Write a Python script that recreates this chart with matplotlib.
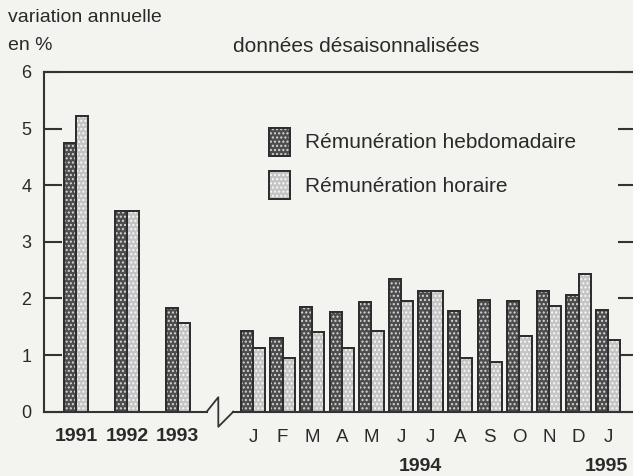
import matplotlib
matplotlib.use("Agg")
import matplotlib.pyplot as plt
from matplotlib.patches import Rectangle
import numpy as np

plt.rcParams['font.family'] = ['Liberation Sans', 'DejaVu Sans']

years = ["1991", "1992", "1993"]
year_hebdo = [4.75, 3.55, 1.83]
year_horaire = [5.22, 3.55, 1.56]

months = ["J", "F", "M", "A", "M", "J", "J", "A", "S", "O", "N", "D", "J"]
month_hebdo = [1.42, 1.31, 1.85, 1.76, 1.94, 2.34, 2.14, 1.78, 1.97, 1.95, 2.14, 2.06, 1.79]
month_horaire = [1.13, 0.95, 1.41, 1.13, 1.43, 1.95, 2.14, 0.95, 0.87, 1.34, 1.86, 2.44, 1.27]

yticks = [0, 1, 2, 3, 4, 5, 6]

BG = '#f3f3ef'
DARK = '#4d4d4d'
LIGHT = '#c4c4c4'
EDGE = '#2e2e2e'
TXT = '#2a2a2a'

W, H = 633, 476
fig = plt.figure(figsize=(W / 100, H / 100), dpi=100, facecolor=BG)

x0_px, y0_px, x1_px, y1_px = 44, 411.7, 636, 72
ax = fig.add_axes([x0_px / W, 1 - y0_px / H, (x1_px - x0_px) / W, (y0_px - y1_px) / H])
ax.set_facecolor(BG)

unit = 29.6
xmax = (x1_px - x0_px) / unit
year_x = np.array([1.08, 2.80, 4.52])
month_x = 7.06 + np.arange(len(months))
bw = 0.41

def draw_bars(xs, vals, color, dotcol):
    ax.bar(xs, vals, width=bw, color=color, edgecolor=EDGE, linewidth=1.4, zorder=2)
    ax.bar(xs, vals, width=bw, color='none', edgecolor=dotcol, hatch='....', linewidth=0, zorder=3)
    ax.bar(xs, vals, width=bw, color='none', edgecolor=EDGE, linewidth=1.4, zorder=4)

draw_bars(year_x - bw / 2, year_hebdo, DARK, '#d8d8d8')
draw_bars(year_x + bw / 2, year_horaire, LIGHT, '#f8f8f8')
draw_bars(month_x - bw / 2, month_hebdo, DARK, '#d8d8d8')
draw_bars(month_x + bw / 2, month_horaire, LIGHT, '#f8f8f8')

ax.set_xlim(0, xmax)
ax.set_ylim(0, 6)

ax.spines['bottom'].set_visible(False)
for s in ['left', 'top', 'right']:
    ax.spines[s].set_color('#333333')
    ax.spines[s].set_linewidth(1.5)

# broken baseline
bx = [(206.7 - x0_px) / unit, (218.3 - x0_px) / unit, (218.3 - x0_px) / unit, (233.3 - x0_px) / unit]
by = [0, 14.4 / 56.3, -15 / 56.3, 0]
ax.plot([0, bx[0]], [0, 0], color='#333333', lw=1.5, clip_on=False, zorder=5)
ax.plot(bx, by, color='#333333', lw=1.3, clip_on=False, zorder=5)
ax.plot([bx[-1], xmax], [0, 0], color='#333333', lw=1.5, clip_on=False, zorder=5)

ax.set_yticks(yticks)
ax.set_yticklabels([str(t) for t in yticks])
ax.tick_params(axis='y', direction='in', length=13, width=1.5, color='#333333',
               labelsize=13, pad=9, labelcolor=TXT, right=True)
ax.set_xticks([])

# x labels
for x, lab in zip(year_x, years):
    ax.text(x, -0.43, lab, ha='center', va='center', fontsize=14, fontweight='bold', color=TXT)
for x, lab in zip(month_x, months):
    ax.text(x, -0.45, lab, ha='center', va='center', fontsize=13.5, color=TXT)
ax.text((420 - x0_px) / unit, -0.97, "1994", ha='center', va='center', fontsize=14, fontweight='bold', color=TXT)
ax.text(month_x[-1] - 0.05, -0.97, "1995", ha='center', va='center', fontsize=14, fontweight='bold', color=TXT)

# titles
fig.text(8 / W, 1 - 17 / H, "variation annuelle", ha='left', va='center', fontsize=14, color=TXT)
fig.text(8 / W, 1 - 46 / H, "en %", ha='left', va='center', fontsize=14, color=TXT)
fig.text(233 / W, 1 - 46 / H, "données désaisonnalisées", ha='left', va='center', fontsize=15, color=TXT)

# legend
for (ytop, col, dot, lab) in [(128, DARK, '#d8d8d8', "Rémunération hebdomadaire"),
                               (171, LIGHT, '#f8f8f8', "Rémunération horaire")]:
    rx, rw, rh = 269, 21, 28
    for kw in [dict(facecolor=col, edgecolor=EDGE, linewidth=1.4),
               dict(facecolor='none', edgecolor=dot, hatch='....', linewidth=0),
               dict(facecolor='none', edgecolor=EDGE, linewidth=1.4)]:
        fig.patches.append(Rectangle((rx / W, 1 - (ytop + rh) / H), rw / W, rh / H,
                                     transform=fig.transFigure, **kw))
    fig.text(305 / W, 1 - (ytop + rh / 2 + 1) / H, lab, ha='left', va='center', fontsize=15, color=TXT)

fig.savefig("out.png", dpi=100, facecolor=BG)
